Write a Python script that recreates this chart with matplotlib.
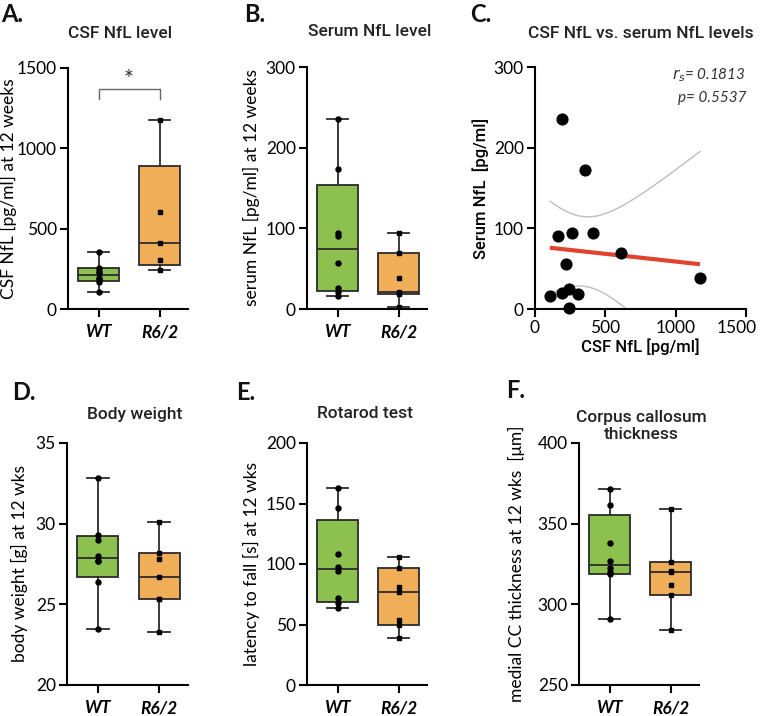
import numpy as np
import matplotlib.pyplot as plt
from matplotlib.transforms import ScaledTranslation

plt.rcParams['font.family'] = ['Lato', 'DejaVu Sans']

# data
groups = ["WT", "R6/2"]

csf_wt = [357, 258, 238, 224, 195, 187, 170, 108]
csf_r62 = [1174, 604, 409, 305, 241]

serum_wt = [235, 173, 94, 91, 57, 26, 21, 16]
serum_r62 = [94, 70, 39, 21, 20, 19, 2]

# paired CSF / serum values for the correlation panel
pair_csf = [194, 357, 163, 265, 409, 608, 222, 106, 194, 239, 303, 239, 1173]
pair_serum = [235, 172, 90, 94, 94, 69, 56, 16, 20, 25, 18, 1, 38]
r_s = 0.1813
p_val = 0.5537

weight_wt = [32.8, 29.3, 29.0, 28.0, 27.7, 27.7, 26.4, 23.5]
weight_r62 = [30.1, 28.2, 27.8, 26.7, 25.3, 25.3, 23.3]

rotarod_wt = [163, 146, 108.5, 97.8, 94.5, 71.5, 67.4, 63.5]
rotarod_r62 = [106, 96.4, 80.9, 76.8, 54.1, 50.0, 39.2]

cc_wt = [371.3, 361.4, 337.8, 326.6, 322.5, 320.2, 318.6, 291.1]
cc_r62 = [359.3, 326, 320.9, 319.8, 312, 306, 284.1]

GREEN = '#8DC14F'
ORANGE = '#EFAE57'
EDGE = '#2b2b2b'
SEMI = ['Roboto', 'DejaVu Sans']

W, H = 760, 716
fig = plt.figure(figsize=(W / 100, H / 100), dpi=100)


def px_axes(left, top, right, bottom):
    return fig.add_axes([left / W, 1 - bottom / H, (right - left) / W, (bottom - top) / H])


def style(ax):
    for s in ['top', 'right']:
        ax.spines[s].set_visible(False)
    for s in ['left', 'bottom']:
        ax.spines[s].set_linewidth(1.5)
    ax.tick_params(direction='out', length=6, width=1.5, labelsize=12.5, pad=2)


def box_panel(ax, wt, r62, ylim, yticks, ylabel, label_x):
    stats = []
    for vals in (wt, r62):
        q1, med, q3 = np.percentile(vals, [25, 50, 75], method='weibull')
        stats.append(dict(med=med, q1=q1, q3=q3, whislo=min(vals), whishi=max(vals)))
    bp = ax.bxp(stats, positions=[1, 2], widths=0.67, capwidths=0.35,
                patch_artist=True, showfliers=False,
                boxprops=dict(linewidth=1.3, edgecolor=EDGE),
                medianprops=dict(color=EDGE, linewidth=1.3),
                whiskerprops=dict(color=EDGE, linewidth=1.3),
                capprops=dict(color=EDGE, linewidth=1.3))
    bp['boxes'][0].set_facecolor(GREEN)
    bp['boxes'][1].set_facecolor(ORANGE)
    ax.plot(np.ones(len(wt)), wt, 'o', color='k', ms=3.6, zorder=4)
    ax.plot(np.full(len(r62), 2), r62, 's', color='k', ms=3.4, zorder=4)
    ax.set_xlim(0.5, 0.5 + 120 / 61)
    ax.set_ylim(*ylim)
    ax.set_yticks(yticks)
    ax.set_xticks([1, 2])
    ax.set_xticklabels(groups, fontweight='bold', fontstyle='italic', fontsize=12)
    ax.set_ylabel(ylabel, fontsize=12.5)
    style(ax)
    ax.tick_params(axis='x', pad=5)
    ax.yaxis.set_label_coords(label_x, 0.5)


def ftext(x, y, s, **kw):
    fig.text(x / W, 1 - y / H, s, **kw)


# A
axA = px_axes(68, 68, 188, 309)
box_panel(axA, csf_wt, csf_r62, (0, 1500), [0, 500, 1000, 1500],
          'CSF NfL [pg/ml] at 12 weeks', (17 - 68) / 120)
axA.plot([1, 1, 2, 2], [1310, 1370, 1370, 1310], color='#666666', lw=1)
axA.text(1.5, 1360, '*', ha='center', va='bottom', fontsize=17, color='#333333')

# B
axB = px_axes(307, 67, 427, 309)
box_panel(axB, serum_wt, serum_r62, (0, 300), [0, 100, 200, 300],
          'serum NfL [pg/ml] at 12 weeks', (260 - 307) / 120)

# C
axC = px_axes(535, 67, 746, 309)
x = np.array(pair_csf, float)
y = np.array(pair_serum, float)
slope, icpt = np.polyfit(x, y, 1)
n = len(x)
resid = y - (slope * x + icpt)
s = np.sqrt(np.sum(resid ** 2) / (n - 2))
sxx = np.sum((x - x.mean()) ** 2)
xs = np.linspace(x.min(), x.max(), 200)
yh = slope * xs + icpt
half = 2.201 * s * np.sqrt(1 / n + (xs - x.mean()) ** 2 / sxx)
axC.plot(xs, yh + half, color='#bdbdbd', lw=1)
axC.plot(xs, yh - half, color='#bdbdbd', lw=1)
axC.plot(xs, yh, color='#E0432F', lw=3, solid_capstyle='butt', zorder=3)
axC.scatter(x, y, s=60, color='k', zorder=4, clip_on=False)
axC.set_xlim(0, 1500)
axC.set_ylim(0, 300)
axC.set_xticks([0, 500, 1000, 1500])
axC.set_yticks([0, 100, 200, 300])
style(axC)
lab = axC.get_xticklabels()[-1]
lab.set_transform(lab.get_transform() + ScaledTranslation(-9 / 100, 0, fig.dpi_scale_trans))
axC.set_xlabel('CSF NfL [pg/ml]', fontsize=12, fontweight='medium', family=SEMI,
               labelpad=2)
axC.set_ylabel('Serum NfL  [pg/ml]', fontsize=12, fontweight='medium', family=SEMI)
axC.yaxis.set_label_coords((489 - 535) / 211, 0.5)
axC.text(1500, 290, '$r_s$= %.4f' % r_s, ha='right', va='center', fontsize=11,
         fontstyle='italic', color='#333333')
axC.text(1500, 262, 'p= %.4f' % p_val, ha='right', va='center', fontsize=11,
         fontstyle='italic', color='#333333')

# D
axD = px_axes(67, 443, 188, 685)
box_panel(axD, weight_wt, weight_r62, (20, 35), [20, 25, 30, 35],
          'body weight [g] at 12 wks', (28 - 67) / 121)

# E
axE = px_axes(307, 443, 427, 685)
box_panel(axE, rotarod_wt, rotarod_r62, (0, 200), [0, 50, 100, 150, 200],
          'latency to fall [s] at 12 wks', (260 - 307) / 120)

# F
axF = px_axes(579, 443, 699, 685)
box_panel(axF, cc_wt, cc_r62, (250, 400), [250, 300, 350, 400],
          'medial CC thickness at 12 wks  [\u03bcm]', (525 - 579) / 120)

# titles
tkw = dict(ha='center', va='center', fontsize=12.5, fontweight='medium',
           family=SEMI, color='#222222')
ftext(120, 33, 'CSF NfL level', **tkw)
ftext(370, 32, 'Serum NfL level', **tkw)
ftext(641, 33, 'CSF NfL vs. serum NfL levels', **tkw)
ftext(135, 414, 'Body weight', **tkw)
ftext(365, 414, 'Rotarod test', **tkw)
ftext(641, 426, 'Corpus callosum\nthickness', linespacing=1.15, **tkw)

# panel letters
lkw = dict(ha='left', va='center', fontsize=17, fontweight='bold', color='#111111')
ftext(1, 14, 'A.', **lkw)
ftext(244, 14, 'B.', **lkw)
ftext(470, 14, 'C.', **lkw)
ftext(12, 392, 'D.', **lkw)
ftext(236, 392, 'E.', **lkw)
ftext(506, 391, 'F.', **lkw)

fig.savefig('out.png', dpi=100)
